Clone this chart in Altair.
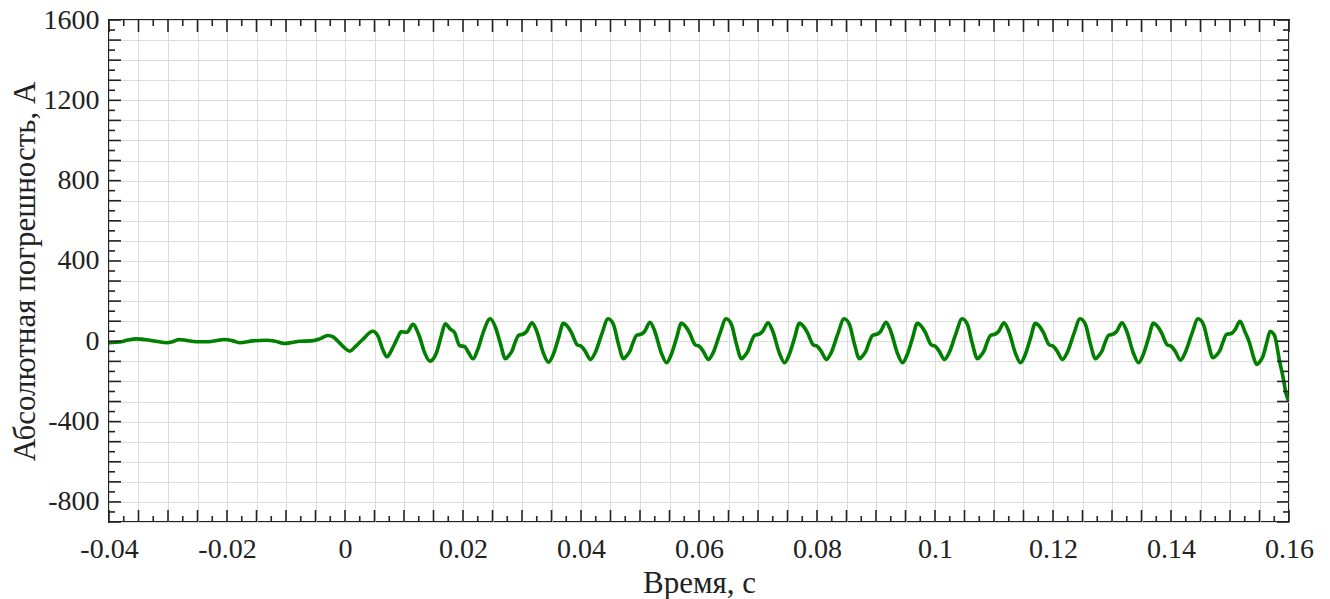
import altair as alt
import pandas as pd

# ---- data ----
time_s = [
    -0.0400, -0.0382, -0.0368, -0.0354, -0.0331, -0.0303, -0.0292, -0.0281, -0.0268, -0.0252,
    -0.0230, -0.0204, -0.0190, -0.0179, -0.0156, -0.0134, -0.0118, -0.0103, -0.0090, -0.0077,
    -0.0057, -0.0043, -0.0029, -0.0020, -0.0012, -0.0004, 0.0008, 0.0018, 0.0030, 0.0047,
    0.0056, 0.0064, 0.0071, 0.0081, 0.0089, 0.0095, 0.0105, 0.0115, 0.0126, 0.0135,
    0.0144, 0.0155, 0.0163, 0.0170, 0.0178, 0.0186, 0.0194, 0.0203, 0.0208, 0.0217,
    0.0225, 0.0234,
    0.0246, 0.0255, 0.0263, 0.0272, 0.0277, 0.0283, 0.0288, 0.0294, 0.0303, 0.0308,
    0.0317, 0.0325, 0.0336, 0.0345, 0.0353, 0.0362, 0.0370, 0.0379, 0.0384, 0.0393,
    0.0401, 0.0407, 0.0416, 0.0424, 0.0435,
    0.0446, 0.0455, 0.0463, 0.0472, 0.0477, 0.0483, 0.0488, 0.0494, 0.0503, 0.0508,
    0.0517, 0.0525, 0.0536, 0.0545, 0.0553, 0.0562, 0.0570, 0.0579, 0.0584, 0.0593,
    0.0601, 0.0607, 0.0616, 0.0624, 0.0635,
    0.0646, 0.0655, 0.0663, 0.0672, 0.0677, 0.0683, 0.0688, 0.0694, 0.0703, 0.0708,
    0.0717, 0.0725, 0.0736, 0.0745, 0.0753, 0.0762, 0.0770, 0.0779, 0.0784, 0.0793,
    0.0801, 0.0807, 0.0816, 0.0824, 0.0835,
    0.0846, 0.0855, 0.0863, 0.0872, 0.0877, 0.0883, 0.0888, 0.0894, 0.0903, 0.0908,
    0.0917, 0.0925, 0.0936, 0.0945, 0.0953, 0.0962, 0.0970, 0.0979, 0.0984, 0.0993,
    0.1001, 0.1007, 0.1016, 0.1024, 0.1035,
    0.1046, 0.1055, 0.1063, 0.1072, 0.1077, 0.1083, 0.1088, 0.1094, 0.1103, 0.1108,
    0.1117, 0.1125, 0.1136, 0.1145, 0.1153, 0.1162, 0.1170, 0.1179, 0.1184, 0.1193,
    0.1201, 0.1207, 0.1216, 0.1224, 0.1235,
    0.1246, 0.1255, 0.1263, 0.1272, 0.1277, 0.1283, 0.1288, 0.1294, 0.1303, 0.1308,
    0.1317, 0.1325, 0.1336, 0.1345, 0.1353, 0.1362, 0.1370, 0.1379, 0.1384, 0.1393,
    0.1401, 0.1407, 0.1416, 0.1424, 0.1435,
    0.1446, 0.1455, 0.1463, 0.1471, 0.1477, 0.1483, 0.1488, 0.1494, 0.1503, 0.1508,
    0.1517, 0.1525, 0.1533, 0.1539, 0.1545, 0.1551, 0.1556, 0.1562, 0.1568, 0.1573,
    0.1576, 0.1584, 0.1590, 0.1595, 0.1599,
]

error_a = [
    -7, -4, 6, 12, 5, -7, -2, 9, 4, -2,
    -2, 9, 2, -7, 2, 5, 0, -11, -6, 0,
    2, 12, 29, 22, 0, -24, -49, -25, 9, 50,
    25, -41, -77, -32, 17, 47, 45, 84, 25, -57,
    -99, -57, 25, 87, 62, 42, -21, -27, -49, -87,
    -41, 42,
    112, 70, -8, -87, -74, -49, -8, 29, 37, 50,
    92, 50, -57, -104, -66, 17, 89, 67, 42, -16,
    -27, -49, -91, -57, 34,
    112, 84, -8, -87, -74, -49, -8, 29, 37, 50,
    95, 50, -57, -107, -66, 17, 89, 67, 42, -16,
    -27, -49, -91, -57, 34,
    112, 84, -8, -87, -74, -49, -8, 29, 37, 50,
    92, 50, -57, -107, -66, 17, 89, 67, 42, -16,
    -27, -49, -91, -57, 34,
    112, 84, -8, -87, -74, -49, -8, 29, 37, 50,
    95, 50, -57, -107, -66, 17, 89, 67, 42, -16,
    -27, -49, -91, -57, 34,
    112, 84, -8, -87, -74, -49, -8, 29, 37, 50,
    92, 50, -57, -107, -66, 17, 89, 67, 42, -16,
    -27, -49, -91, -57, 34,
    112, 84, -8, -87, -74, -49, -8, 29, 37, 50,
    92, 50, -57, -107, -66, 17, 89, 67, 42, -16,
    -27, -49, -94, -57, 34,
    112, 84, -8, -82, -70, -45, -5, 34, 40, 55,
    99, 50, -7, -70, -115, -100, -74, -10, 50, 40,
    25, -99, -180, -260, -295,
]

# axis ticks / labels
x_major = [round(-0.04 + 0.005 * i, 4) for i in range(41)]
x_minor = [round(-0.0375 + 0.005 * i, 5) for i in range(40)]
y_major = [-900 + 100 * i for i in range(26)]
y_minor = [-850 + 100 * i for i in range(25)]

W, H = 1180, 502
FONT = "Liberation Serif"
DARK = "#222222"
x_scale = alt.Scale(domain=[-0.04, 0.16], nice=False, zero=False)
y_scale = alt.Scale(domain=[-900, 1600], nice=False, zero=False)

df = pd.DataFrame({"t": time_s, "v": error_a})

x_axis = alt.Axis(
    values=x_major, grid=True, gridColor="#dcdcdc", gridWidth=1, domain=False,
    ticks=False, tickSize=0,
    labelExpr="abs(datum.value/0.02 - round(datum.value/0.02)) < 1e-6 ? '' + datum.value : ''",
    labelFont=FONT, labelFontSize=28, labelColor=DARK, labelPadding=35,
    labelBaseline="alphabetic", labelFlush=False, labelOverlap=False, labelBound=False,
    title="Время, с", titleFont=FONT, titleFontSize=31, titleFontWeight="normal",
    titleColor=DARK, titleX=W / 2, titleY=70, titleBaseline="alphabetic",
)
y_axis = alt.Axis(
    values=y_major, grid=True, gridColor="#dcdcdc", gridWidth=1, domain=False,
    ticks=False, tickSize=0,
    labelExpr="datum.value % 400 == 0 ? '' + datum.value : ''",
    labelFont=FONT, labelFontSize=28, labelColor=DARK, labelPadding=10,
    labelBaseline="middle", labelFlush=False, labelOverlap=False, labelBound=False,
    title="Абсолютная погрешность, А", titleFont=FONT, titleFontSize=31,
    titleFontWeight="normal", titleColor=DARK, titleX=-75, titleY=H / 2,
    titleBaseline="alphabetic", titleAngle=270,
)

line = alt.Chart(df).mark_line(
    color="#007f00", strokeWidth=3.6, interpolate="monotone", clip=True
).encode(
    x=alt.X("t:Q", scale=x_scale, axis=x_axis),
    y=alt.Y("v:Q", scale=y_scale, axis=y_axis),
)


def xticks(vals, y0, y1):
    return alt.Chart(pd.DataFrame({"t": vals})).mark_rule(color=DARK, strokeWidth=1.6).encode(
        x=alt.X("t:Q", scale=x_scale, axis=x_axis), y=alt.value(y0), y2=alt.value(y1)
    )


def yticks(vals, x0, x1):
    return alt.Chart(pd.DataFrame({"v": vals})).mark_rule(color=DARK, strokeWidth=1.6).encode(
        y=alt.Y("v:Q", scale=y_scale, axis=y_axis), x=alt.value(x0), x2=alt.value(x1)
    )


layers = [
    line,
    xticks(x_major, H, H - 12), xticks(x_minor, H, H - 6),
    xticks(x_major, 0, 12), xticks(x_minor, 0, 6),
    yticks(y_major, 0, 12), yticks(y_minor, 0, 6),
    yticks(y_major, W, W - 12), yticks(y_minor, W, W - 6),
]

chart = alt.layer(*layers).properties(
    width=W, height=H,
    autosize=alt.AutoSizeParams(type="none"),
    padding={"left": 101, "top": 12, "right": 28, "bottom": 77},
    background="white",
).configure_view(stroke=DARK, strokeWidth=2)

chart.save("out.html", embed_options={"renderer": "svg", "actions": False})
